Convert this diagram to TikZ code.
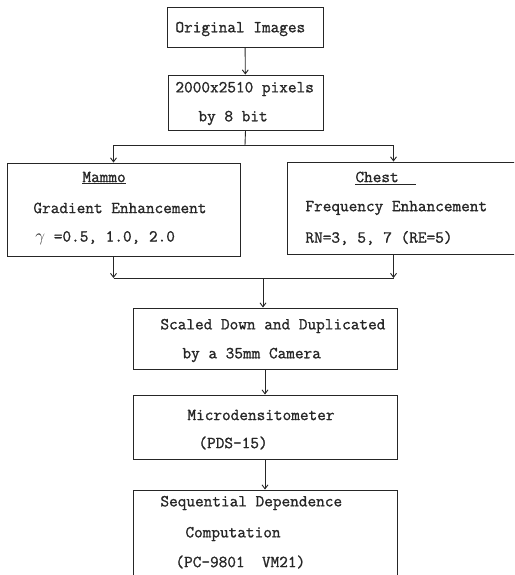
\documentclass[tikz,border=0pt]{standalone}
\usepackage{fontspec}
\usepackage{tikz}
\usetikzlibrary{arrows.meta}
\newfontfamily\printfont{Latin Modern Mono}[AutoFakeBold=1.2]
\colorlet{ink}{black!85}
\tikzset{
  box/.style={draw=ink, line width=0.9pt, inner sep=0pt},
  txt/.style={anchor=west, inner sep=0pt, text=ink,
    font=\printfont\bfseries\fontsize{16.8}{20}\selectfont},
  >={Straight Barb[length=4pt,width=6pt]}
}

\begin{document}
\begin{tikzpicture}[x=1pt, y=-1pt, line width=0.9pt, draw=ink]
\useasboundingbox (0,0) rectangle (514,575);
\clip (0,0) rectangle (514,575);

%the boxes
\node [box, minimum width=156pt, minimum height=40pt] (orig) at (245,27) {};
\node [box, minimum width=155pt, minimum height=55pt] (pix) at (245.5,102.5) {};
\node [box, minimum width=233pt, minimum height=93pt] (mammo) at (123.5,209.5) {};
\node [box, minimum width=233pt, minimum height=92pt] (chest) at (403.5,208) {};
\node [box, minimum width=264pt, minimum height=61pt] (scaled) at (265,338.5) {};
\node [box, minimum width=264pt, minimum height=64pt] (micro) at (265,427) {};
\node [box, minimum width=264pt, minimum height=90pt] (seq) at (265,535) {};

%the texts
\node [txt] (t1) at (175,29) {Original Images};
\node [txt] (t2) at (175,89) {2000x2510 pixels};
\node [txt] (t3) at (198,118) {by 8 bit};
\node [txt] (t4) at (82,178) {\underline{Mammo}};
\node [txt] (t5) at (33,208) {Gradient Enhancement};
\node [txt] (t6) at (35,238) {$\gamma$ =0.5, 1.0, 2.0};
\node [txt] (t7) at (355,178) {\underline{Chest~~}};
\node [txt] (t8) at (305,208) {Frequency Enhancement};
\node [txt] (t9) at (305,238) {RN=3, 5, 7 (RE=5)};
\node [txt] (t10) at (160,326) {Scaled Down and Duplicated};
\node [txt] (t11) at (182,355) {by a 35mm Camera};
\node [txt] (t12) at (187,415) {Microdensitometer};
\node [txt] (t13) at (198,443) {(PDS-15)};
\node [txt] (t14) at (160,503) {Sequential Dependence};
\node [txt] (t15) at (185,534) {Computation};
\node [txt] (t16) at (175,562) {(PC-9801~~VM21)};

%the split
\coordinate (fork) at (245,145);
\draw [->] (orig) -- (pix);
\draw [-] (pix.south) -- (fork);
\draw [->] (fork) -| ([xshift=-10pt]mammo.north);
\draw [->] (fork) -| ([xshift=-10pt]chest.north);

%the join
\coordinate (join) at (263,278);
\draw [->] ([xshift=-10pt]mammo.south) -- ([xshift=-10pt]mammo.south |- join);
\draw [->] ([xshift=-10pt]chest.south) -- ([xshift=-10pt]chest.south |- join);
\draw [-] ([xshift=-10pt]mammo.south |- join) -- ([xshift=-10pt]chest.south |- join);
\draw [->] (join) -- (join |- scaled.north);

%the chain
\draw [->] (scaled) -- (micro);
\draw [->] (micro) -- (seq);
\end{tikzpicture}
\end{document}
